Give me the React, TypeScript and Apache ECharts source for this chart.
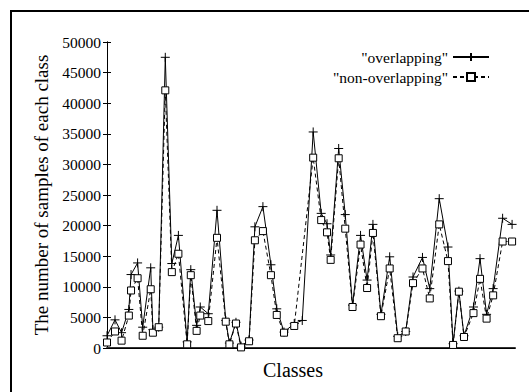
import React, { useEffect, useRef } from "react";
import * as echarts from "echarts";

// class positions along the horizontal axis
const classPos = [0, 1.1, 2.0, 3.0, 3.3, 4.2, 4.9, 6.0, 6.3, 7.1, 8.0, 8.9, 9.8, 11.0, 11.5, 12.3, 12.8, 13.9, 15.1, 16.3, 16.8, 17.7, 18.4, 19.5, 20.3, 21.4, 22.5, 23.3, 24.3, 25.7, 26.8, 28.3, 29.4, 30.2, 30.7, 31.8, 32.7, 33.7, 34.8, 35.7, 36.5, 37.6, 38.8, 39.9, 41.0, 42.0, 43.3, 44.3, 45.6, 46.8, 47.5, 48.3, 49.0, 50.3, 51.2, 52.1, 53.0, 54.3, 55.6];

const overlapping = [2000, 4600, 2500, 6300, 12000, 13900, 3400, 13100, 3000, 3400, 47500, 13800, 18400, 1000, 12800, 3700, 6700, 5600, 22500, 4500, 800, 4200, 300, 1300, 19800, 23100, 13600, 6400, 2600, 4000, 4500, 35300, 22000, 20300, 15200, 32600, 21800, 7000, 18400, 11100, 20200, 5500, 14900, 1900, 2700, 11600, 14800, 9700, 24400, 16500, 700, 9300, 2000, 6700, 14600, 5500, 9700, 21200, 20200];

const nonOverlapping = [900, 2700, 1200, 5300, 9400, 11400, 2000, 9600, 2500, 3400, 42100, 12400, 15400, 600, 11900, 2800, 5300, 4400, 18000, 4300, 600, 4000, 100, 1100, 17600, 19100, 11900, 5400, 2500, 3600, null, 31100, 20900, 18900, 14400, 31000, 19500, 6700, 16900, 9800, 18800, 5200, 13000, 1600, 2700, 10600, 13000, 8100, 20200, 14200, 500, 9200, 1800, 5700, 11300, 4800, 8600, 17400, 17400];

const seriesNames = ["overlapping", "non-overlapping"];
const yTicks = { min: 0, max: 50000, interval: 5000 };
const xRange = { min: 0, max: 56 };
const yTitle = "The number of samples of each class";
const xTitle = "Classes";

const FONT = "'Liberation Serif', 'DejaVu Serif', 'Times New Roman', serif";

export default function App() {
  const ref = useRef<HTMLDivElement>(null);
  useEffect(() => {
    if (!ref.current) return;
    const chart = echarts.init(ref.current, undefined, { renderer: "svg" });
    const pts = (vals: (number | null)[]) => classPos.map((x, i) => [x, vals[i]]);
    chart.setOption({
      animation: false,
      backgroundColor: "#fff",
      grid: { left: 107, right: 14, top: 42, bottom: 44 },
      graphic: [
        {
          type: "line",
          shape: { x1: 11, y1: 11, x2: 540, y2: 11 },
          style: { stroke: "#000", lineWidth: 2 },
          silent: true,
          z: 100,
        },
        {
          type: "line",
          shape: { x1: 11, y1: 10, x2: 11, y2: 400 },
          style: { stroke: "#000", lineWidth: 2 },
          silent: true,
          z: 100,
        },
      ],
      legend: {
        orient: "vertical",
        align: "right",
        right: 34,
        top: 44,
        itemWidth: 36,
        itemHeight: 10,
        itemGap: 4,
        formatter: (n: string) => `"${n}"`,
        textStyle: { fontFamily: FONT, fontSize: 15.5, color: "#000", lineHeight: 15 },
        data: seriesNames,
      },
      xAxis: [
        {
          type: "value",
          min: xRange.min,
          max: xRange.max,
          position: "bottom",
          name: xTitle,
          nameLocation: "middle",
          nameGap: 12,
          nameTextStyle: { fontFamily: FONT, fontSize: 20, color: "#000", padding: [0, 36, 0, 0] },
          axisLine: { show: true, lineStyle: { color: "#333", width: 2 } },
          axisTick: { show: false },
          axisLabel: { show: false },
          splitLine: { show: false },
        },
        {
          type: "value",
          min: xRange.min,
          max: xRange.max,
          position: "top",
          axisLine: { show: true, lineStyle: { color: "#000", width: 1 } },
          axisTick: { show: false },
          axisLabel: { show: false },
          splitLine: { show: false },
        },
      ],
      yAxis: [
        {
          type: "value",
          min: yTicks.min,
          max: yTicks.max,
          interval: yTicks.interval,
          position: "left",
          name: yTitle,
          nameLocation: "middle",
          nameGap: 52,
          nameTextStyle: { fontFamily: FONT, fontSize: 19, color: "#000" },
          axisLine: { show: true, lineStyle: { color: "#000", width: 1 } },
          axisTick: { show: true, inside: true, length: 4, lineStyle: { color: "#000" } },
          axisLabel: {
            fontFamily: FONT,
            fontSize: 15.5,
            color: "#000",
            margin: 6,
            formatter: (v: number) => String(v),
          },
          splitLine: { show: false },
        },
        {
          type: "value",
          min: yTicks.min,
          max: yTicks.max,
          interval: yTicks.interval,
          position: "right",
          axisLine: { show: true, lineStyle: { color: "#000", width: 1 } },
          axisTick: { show: true, inside: true, length: 4, lineStyle: { color: "#000" } },
          axisLabel: { show: false },
          splitLine: { show: false },
        },
      ],
      series: [
        {
          name: seriesNames[0],
          type: "line",
          data: pts(overlapping),
          symbol: "path://M0,5L10,5M5,0L5,10",
          symbolSize: 9,
          showAllSymbol: true,
          lineStyle: { color: "#000", width: 1 },
          itemStyle: { color: "#000", borderColor: "#000", borderWidth: 1 },
          z: 2,
        },
        {
          name: seriesNames[1],
          type: "line",
          data: pts(nonOverlapping),
          connectNulls: true,
          symbol: "rect",
          symbolSize: 7,
          showAllSymbol: true,
          lineStyle: { color: "#000", width: 1, type: [4, 3] },
          itemStyle: { color: "#fff", borderColor: "#000", borderWidth: 1 },
          z: 3,
        },
      ],
    });
    return () => chart.dispose();
  }, []);
  return (
    <div
      ref={ref}
      style={{ position: "fixed", left: 0, top: 0, width: 529, height: 392, background: "#fff" }}
    />
  );
}
